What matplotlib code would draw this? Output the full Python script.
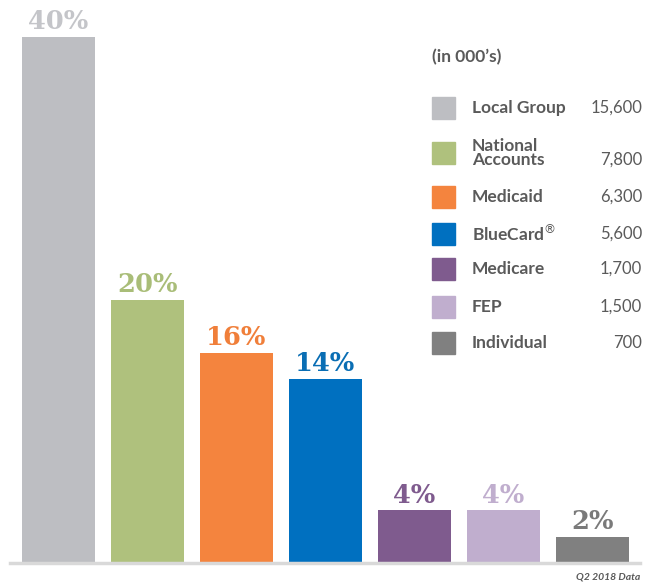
import matplotlib
matplotlib.use("Agg")
import matplotlib.pyplot as plt
from matplotlib.patches import Rectangle

categories = ["Local Group", "National\nAccounts", "Medicaid", "BlueCard$^{\\circledR}$",
              "Medicare", "FEP", "Individual"]
shares = [40, 20, 16, 14, 4, 4, 2]
members = ["15,600", "7,800", "6,300", "5,600", "1,700", "1,500", "700"]
bar_colors = ["#BDBEC2", "#AFC17D", "#F4843E", "#0070C0", "#7F5B8E", "#C0AECE", "#808080"]
label_colors = ["#C4C5C9", "#A9BD78", "#F07F3A", "#0A6EB4", "#7F5B8E", "#C0AECE", "#7A7A7A"]

W, H = 651, 585
fig = plt.figure(figsize=(W / 100, H / 100), dpi=100)
plt.rcParams["mathtext.fontset"] = "dejavusans"

# axes placed in pixel terms: baseline at y=563, 40% at y=37
ax = fig.add_axes([10 / W, 1 - 563 / H, 630 / W, (563 - 37) / H])
x = list(range(len(shares)))
ax.bar(x, shares, width=0.82, color=bar_colors, zorder=2)
ax.set_xlim((10 - 58.5) / 89, (640 - 58.5) / 89)
ax.set_ylim(0, 40)
for s in ["top", "right", "left"]:
    ax.spines[s].set_visible(False)
ax.spines["bottom"].set_color("#D9D9D9")
ax.spines["bottom"].set_linewidth(2.5)
ax.set_xticks([])
ax.set_yticks([])

for xi, v, c in zip(x, shares, label_colors):
    ax.annotate(f"{v}%", (xi, v), xytext=(0, 2), textcoords="offset points",
                ha="center", va="bottom", fontsize=18.5, fontweight="bold",
                family="DejaVu Serif", color=c)

# legend table on the right
txt = "#5A5A5A"
fig.text(432 / W, 1 - 57 / H, "(in 000\u2019s)", fontsize=12.5, fontweight="bold",
         family="Lato", color=txt, va="center", ha="left")
row_y = [108, 153, 197, 234, 269, 307, 343]
for yc, name, num, c in zip(row_y, categories, members, bar_colors):
    fig.patches.append(Rectangle((432 / W, 1 - (yc + 11) / H), 23 / W, 22 / H,
                                 transform=fig.transFigure, color=c))
    fig.text(472 / W, 1 - yc / H, name, fontsize=12.5, fontweight="bold",
             family="Lato", color=txt, va="center", ha="left", linespacing=0.9)
    ny = yc + 7 if "\n" in name else yc
    fig.text(642 / W, 1 - ny / H, num, fontsize=12, family="Lato",
             color=txt, va="center", ha="right")

fig.text(640 / W, 1 - 577 / H, "Q2 2018 Data", fontsize=7.5, fontweight="bold",
         style="italic", family="Lato", color="#595959", va="center", ha="right")

fig.savefig("out.png", dpi=100)
